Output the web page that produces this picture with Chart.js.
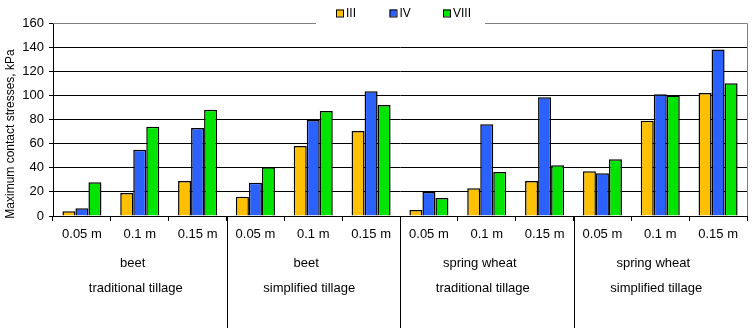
<!DOCTYPE html>
<html>
<head>
<meta charset="utf-8">
<script src="https://cdn.jsdelivr.net/npm/chart.js@4.4.1/dist/chart.umd.min.js"></script>
<style>
  html, body { margin: 0; padding: 0; background: #fff; }
  #wrap { width: 752px; height: 328px; position: relative; }
</style>
</head>
<body>
<div id="wrap"><canvas id="c" width="752" height="328"></canvas></div>
<script>
// ---- data ----
const depths = ["0.05 m", "0.1 m", "0.15 m", "0.05 m", "0.1 m", "0.15 m", "0.05 m", "0.1 m", "0.15 m", "0.05 m", "0.1 m", "0.15 m"];
const groupLine1 = ["beet", "beet", "spring wheat", "spring wheat"];
const groupLine2 = ["traditional tillage", "simplified tillage", "traditional tillage", "simplified tillage"];
const seriesNames = ["III", "IV", "VIII"];
const seriesIII  = [4, 19, 29, 16, 58, 70.5, 5, 23, 29, 37, 79, 102];
const seriesIV   = [6.5, 55, 73, 27.5, 79.5, 103.5, 20, 76, 98.5, 35.5, 101, 138];
const seriesVIII = [28, 74, 88, 40.5, 87, 92, 15, 36.5, 42, 47, 100, 110];
const yTicks = [0, 20, 40, 60, 80, 100, 120, 140, 160];
const yTitle = 'Maximum contact stresses, kPa';

const colors = ["#FFC000", "#2B62FF", "#00E400"];
const FONT = "'Liberation Sans', Arial, sans-serif";

const decor = {
  id: 'decor',
  afterDraw(chart) {
    const ctx = chart.ctx;
    const a = chart.chartArea;
    const x = chart.scales.x;
    ctx.save();
    // plot border (top + right), gray
    ctx.strokeStyle = '#808080';
    ctx.lineWidth = 1;
    ctx.beginPath();
    ctx.moveTo(a.left, a.top + 0.5);
    ctx.lineTo(a.right + 0.5, a.top + 0.5);
    ctx.lineTo(a.right + 0.5, a.bottom);
    ctx.stroke();
    // group separators
    ctx.strokeStyle = '#000';
    const n = depths.length;
    const per = n / groupLine1.length;
    for (let g = 1; g < groupLine1.length; g++) {
      const i = g * per;
      const px = Math.round((x.getPixelForTick(i - 1) + x.getPixelForTick(i)) / 2) + 0.5;
      ctx.beginPath();
      ctx.moveTo(px, a.bottom);
      ctx.lineTo(px, chart.height);
      ctx.stroke();
    }
    // group labels
    ctx.fillStyle = '#000';
    ctx.font = '13px ' + FONT;
    ctx.textAlign = 'center';
    ctx.textBaseline = 'middle';
    for (let g = 0; g < groupLine1.length; g++) {
      const l = (x.getPixelForTick(g * per) + x.getPixelForTick(g * per + per - 1)) / 2;
      ctx.fillText(groupLine1[g], l - 7, 263);
      ctx.fillText(groupLine2[g], l - 4, 288);
    }
    // y axis title
    ctx.save();
    ctx.font = '12px ' + FONT;
    ctx.translate(11, 134);
    ctx.rotate(-Math.PI / 2);
    ctx.fillText(yTitle, 0, 0);
    ctx.restore();
    // legend box (white, interrupts top border)
    ctx.fillStyle = '#fff';
    ctx.fillRect(316, 0, 169, a.top + 2);
    ctx.font = '12px ' + FONT;
    ctx.textAlign = 'left';
    chart.data.datasets.forEach((ds, i) => {
      const bx = 336 + i * 53.5;
      ctx.fillStyle = ds.backgroundColor;
      ctx.fillRect(bx, 9.5, 7, 7);
      ctx.strokeStyle = '#000';
      ctx.strokeRect(bx + 0.5, 9.5 + 0.5, 7, 7);
      ctx.fillStyle = '#000';
      ctx.fillText(ds.label, bx + 10, 13.5);
    });
    ctx.restore();
  }
};

new Chart(document.getElementById('c'), {
  type: 'bar',
  data: {
    labels: depths,
    datasets: [
      { label: seriesNames[0], data: seriesIII, backgroundColor: colors[0] },
      { label: seriesNames[1], data: seriesIV, backgroundColor: colors[1] },
      { label: seriesNames[2], data: seriesVIII, backgroundColor: colors[2] }
    ]
  },
  options: {
    responsive: false,
    animation: false,
    devicePixelRatio: 1,
    layout: { padding: { top: 23, right: 5, left: 0, bottom: 0 } },
    datasets: {
      bar: {
        borderColor: '#000',
        borderWidth: 1.5,
        categoryPercentage: 0.675,
        barPercentage: 1.0
      }
    },
    plugins: {
      legend: { display: false },
      tooltip: { enabled: false }
    },
    scales: {
      x: {
        type: 'category',
        afterFit(s) { s.height = 112; },
        grid: {
          offset: true,
          drawOnChartArea: false,
          drawTicks: true,
          tickLength: 5,
          color: '#000'
        },
        border: { color: '#000', width: 1 },
        ticks: {
          color: '#000',
          font: { family: FONT, size: 13 },
          padding: 6,
          maxRotation: 0,
          autoSkip: false
        }
      },
      y: {
        min: 0,
        max: 160,
        afterFit(s) { s.width = 53; },
        afterBuildTicks(s) { s.ticks = yTicks.map(v => ({ value: v })); },
        grid: {
          color: (c) => (c.tick && c.tick.value === 160) ? 'rgba(0,0,0,0)' : '#000',
          tickColor: '#000',
          tickLength: 4,
          lineWidth: 1
        },
        border: { color: '#000', width: 1 },
        ticks: {
          color: '#000',
          font: { family: FONT, size: 13 },
          padding: 5
        },
        title: { display: false }
      }
    }
  },
  plugins: [decor]
});
</script>
</body>
</html>
